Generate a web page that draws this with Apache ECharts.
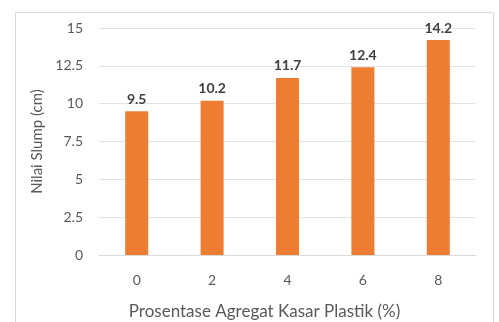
<!DOCTYPE html>
<html>
<head>
<meta charset="utf-8">
<script src="https://cdn.jsdelivr.net/npm/echarts@6/dist/echarts.min.js"></script>
<style>
  html, body { margin: 0; padding: 0; background: #fff; }
  #chart { width: 499px; height: 322px; }
</style>
</head>
<body>
<div id="chart"></div>
<script>
var categories = ['0', '2', '4', '6', '8'];
var slumpValues = [9.5, 10.2, 11.7, 12.4, 14.2];
var yTicks = [0, 2.5, 5, 7.5, 10, 12.5, 15];

var chart = echarts.init(document.getElementById('chart'), null, { renderer: 'canvas' });

var textColor = '#595959';
var font = 'Lato, "Open Sans", sans-serif';

chart.setOption({
  animation: false,
  backgroundColor: '#fff',
  graphic: [{
    type: 'rect',
    shape: { x: 15.5, y: 12.5, width: 478, height: 320 },
    style: { fill: 'none', stroke: '#d9d9d9', lineWidth: 1 },
    silent: true
  }],
  grid: { left: 99, right: 23, top: 28, bottom: 67, containLabel: false, outerBoundsMode: 'none' },
  xAxis: {
    type: 'category',
    data: categories,
    name: 'Prosentase Agregat Kasar Plastik (%)',
    nameLocation: 'middle',
    nameGap: 48,
    nameTextStyle: { color: textColor, fontSize: 17, fontFamily: font, padding: [0, 46, 0, 0] },
    axisLine: { show: true, lineStyle: { color: '#d9d9d9' } },
    axisTick: { show: false },
    axisLabel: { color: textColor, fontSize: 14, fontFamily: font, margin: 18 }
  },
  yAxis: {
    type: 'value',
    min: 0,
    max: 15,
    interval: 2.5,
    name: 'Nilai Slump (cm)',
    nameLocation: 'middle',
    nameGap: 50,
    nameTextStyle: { color: textColor, fontSize: 15, fontFamily: font },
    axisLine: { show: false },
    axisTick: { show: false },
    splitLine: { lineStyle: { color: '#e3e3e3' } },
    axisLabel: {
      color: textColor, fontSize: 14, fontFamily: font, margin: 16,
      formatter: function (v) {
        return yTicks.indexOf(v) >= 0 ? String(v) : '';
      }
    }
  },
  series: [{
    type: 'bar',
    data: slumpValues,
    barWidth: 23,
    itemStyle: { color: '#ED7D31' },
    label: {
      show: true,
      position: 'top',
      distance: 5,
      color: '#404040',
      fontSize: 14,
      fontWeight: 'bold',
      fontFamily: font
    }
  }]
});
</script>
</body>
</html>
